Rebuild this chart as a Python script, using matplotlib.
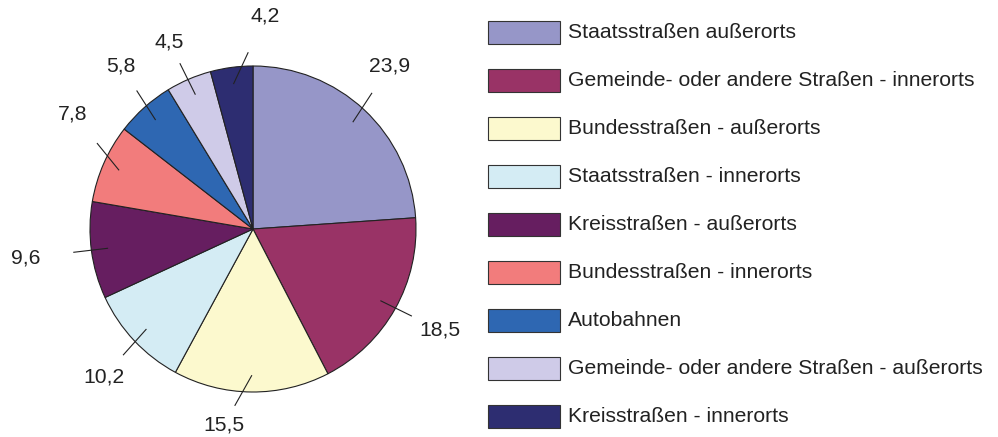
"""Pie chart: share of accidents by road type (values in percent)."""

import matplotlib

matplotlib.use("Agg")
import matplotlib.pyplot as plt
import numpy as np
from matplotlib.patches import Rectangle

CATEGORIES = [
    "Staatsstraßen außerorts",
    "Gemeinde- oder andere Straßen - innerorts",
    "Bundesstraßen - außerorts",
    "Staatsstraßen - innerorts",
    "Kreisstraßen - außerorts",
    "Bundesstraßen - innerorts",
    "Autobahnen",
    "Gemeinde- oder andere Straßen - außerorts",
    "Kreisstraßen - innerorts",
]
VALUES = [23.9, 18.5, 15.5, 10.2, 9.6, 7.8, 5.8, 4.5, 4.2]

COLORS = [
    "#9696C8",
    "#993366",
    "#FCF9CE",
    "#D4ECF4",
    "#661E60",
    "#F27C7C",
    "#2E67B2",
    "#CFCBE8",
    "#2D2D71",
]

# layout in pixel units (figure is 998 x 437)
W, H = 998, 437
CENTER = (253, H - 229)
RADIUS = 163
# label nudges (pixels, +y = down) where the original placement is not purely radial
LABEL_SHIFT = [(-8, -8), (2, -3), (-27, -16), (5, 3), (-17, 1), (14, -30), (9, -5), (0, 8), (40, -3)]


def main() -> None:
    fig = plt.figure(figsize=(W / 100, H / 100), dpi=100)
    ax = fig.add_axes([0, 0, 1, 1])
    plt.rcParams["font.family"] = ["Liberation Sans", "DejaVu Sans"]

    wedges, _ = ax.pie(
        VALUES,
        colors=COLORS,
        startangle=90,
        counterclock=False,
        center=CENTER,
        radius=RADIUS,
        wedgeprops={"edgecolor": "#222222", "linewidth": 0.8},
    )

    for w, v, (dx, dy) in zip(wedges, VALUES, LABEL_SHIFT):
        mid = np.deg2rad((w.theta1 + w.theta2) / 2)
        ux, uy = np.cos(mid), np.sin(mid)
        lx = CENTER[0] + 1.3 * RADIUS * ux + dx
        ly = CENTER[1] + 1.3 * RADIUS * uy - dy
        px = CENTER[0] + 0.9 * RADIUS * ux
        py = CENTER[1] + 0.9 * RADIUS * uy
        d = np.array([lx - px, ly - py])
        d = d / np.hypot(*d)
        qx, qy = px + 34 * d[0], py + 34 * d[1]
        ax.plot([px, qx], [py, qy], color="#222222", linewidth=0.8)
        ax.text(lx, ly, f"{v:.1f}".replace(".", ","), ha="center", va="center",
                fontsize=15.2, color="#222222")

    # legend
    for i, (name, col) in enumerate(zip(CATEGORIES, COLORS)):
        yc = H - 32 - 48 * i
        ax.add_patch(Rectangle((488, yc - 11.5), 72, 23, facecolor=col,
                               edgecolor="#333333", linewidth=0.8))
        ax.text(568, yc, name, ha="left", va="center", fontsize=15.2, color="#222222")

    ax.set_xlim(0, W)
    ax.set_ylim(0, H)
    ax.set_aspect("auto")
    ax.axis("off")
    fig.savefig("out.png", dpi=100)
    plt.close(fig)


if __name__ == "__main__":
    main()
